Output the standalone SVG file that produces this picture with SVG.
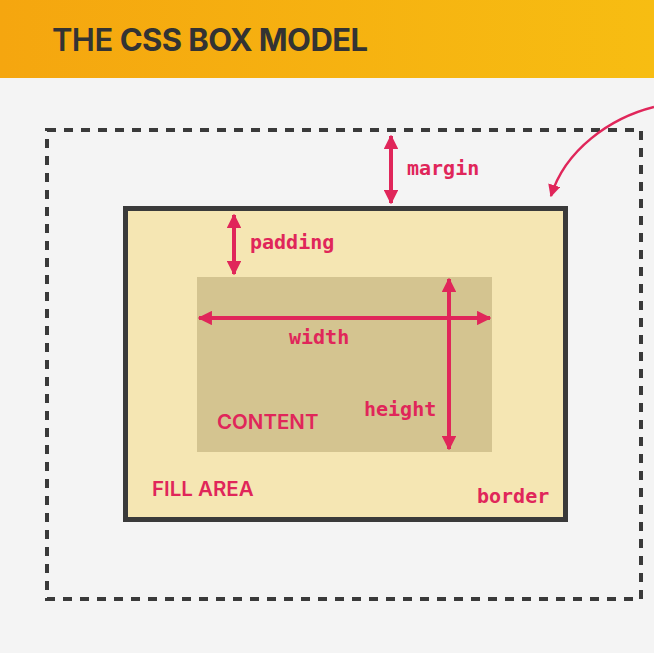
<svg xmlns="http://www.w3.org/2000/svg" width="654" height="653" viewBox="0 0 654 653">
<defs>
<linearGradient id="hdr" x1="0" y1="0" x2="1" y2="0">
<stop offset="0" stop-color="#F5A60F"/>
<stop offset="1" stop-color="#F7BD12"/>
</linearGradient>
<marker id="ah" viewBox="0 0 10 10" refX="9" refY="5" markerWidth="3.6" markerHeight="3.6" orient="auto-start-reverse" markerUnits="strokeWidth">
<path d="M0,0 L10,5 L0,10 z" fill="#E0265A"/>
</marker>
<marker id="ah2" viewBox="0 0 10 10" refX="9" refY="5" markerWidth="5" markerHeight="5" orient="auto" markerUnits="strokeWidth">
<path d="M0,0 L10,5 L0,10 z" fill="#E0265A"/>
</marker>
<style>
.lbl{font-family:"DejaVu Sans Mono","Liberation Mono",monospace;font-weight:bold;font-size:20px;fill:#E0265A}
.cap{font-family:Inter,"Liberation Sans",sans-serif;font-weight:600;font-size:20.5px;fill:#E0265A}
.arr{stroke:#E0265A;stroke-width:4;fill:none;marker-start:url(#ah);marker-end:url(#ah)}
</style>
</defs>
<rect width="654" height="653" fill="#F4F4F4"/>
<g id="header">
<rect width="654" height="78" fill="url(#hdr)"/>
<text x="52" y="51" font-family="Inter,'Liberation Sans',sans-serif" font-size="31" fill="#333" letter-spacing="-0.6"><tspan font-weight="600">THE </tspan><tspan font-weight="700">CSS BOX MODEL</tspan></text>
</g>
<g id="margin-box">
<rect x="47" y="130" width="594" height="469" fill="none" stroke="#3A3A3A" stroke-width="4" stroke-dasharray="9 8"/>
</g>
<g id="border-box">
<rect x="125.5" y="208.5" width="440" height="311" fill="#F5E6B3" stroke="#3A3A3A" stroke-width="5"/>
</g>
<g id="content-box">
<rect x="197" y="277" width="295" height="175" fill="#D4C490"/>
</g>
<g id="connectors">
<line class="arr" x1="391" y1="136" x2="391" y2="203"/>
<line class="arr" x1="234" y1="215" x2="234" y2="274"/>
<line class="arr" x1="199" y1="318" x2="490" y2="318"/>
<line class="arr" x1="449" y1="279" x2="449" y2="449"/>
<path d="M654,107 C610,118 565,150 551,196" stroke="#E0265A" stroke-width="2.5" fill="none" marker-end="url(#ah2)"/>
</g>
<g id="labels">
<text class="lbl" x="407" y="175">margin</text>
<text class="lbl" x="250" y="249">padding</text>
<text class="lbl" x="289" y="344">width</text>
<text class="lbl" x="364" y="416">height</text>
<text class="lbl" x="477" y="503">border</text>
<text class="cap" x="217" y="429">CONTENT</text>
<text class="cap" x="152" y="496">FILL AREA</text>
</g>
</svg>
